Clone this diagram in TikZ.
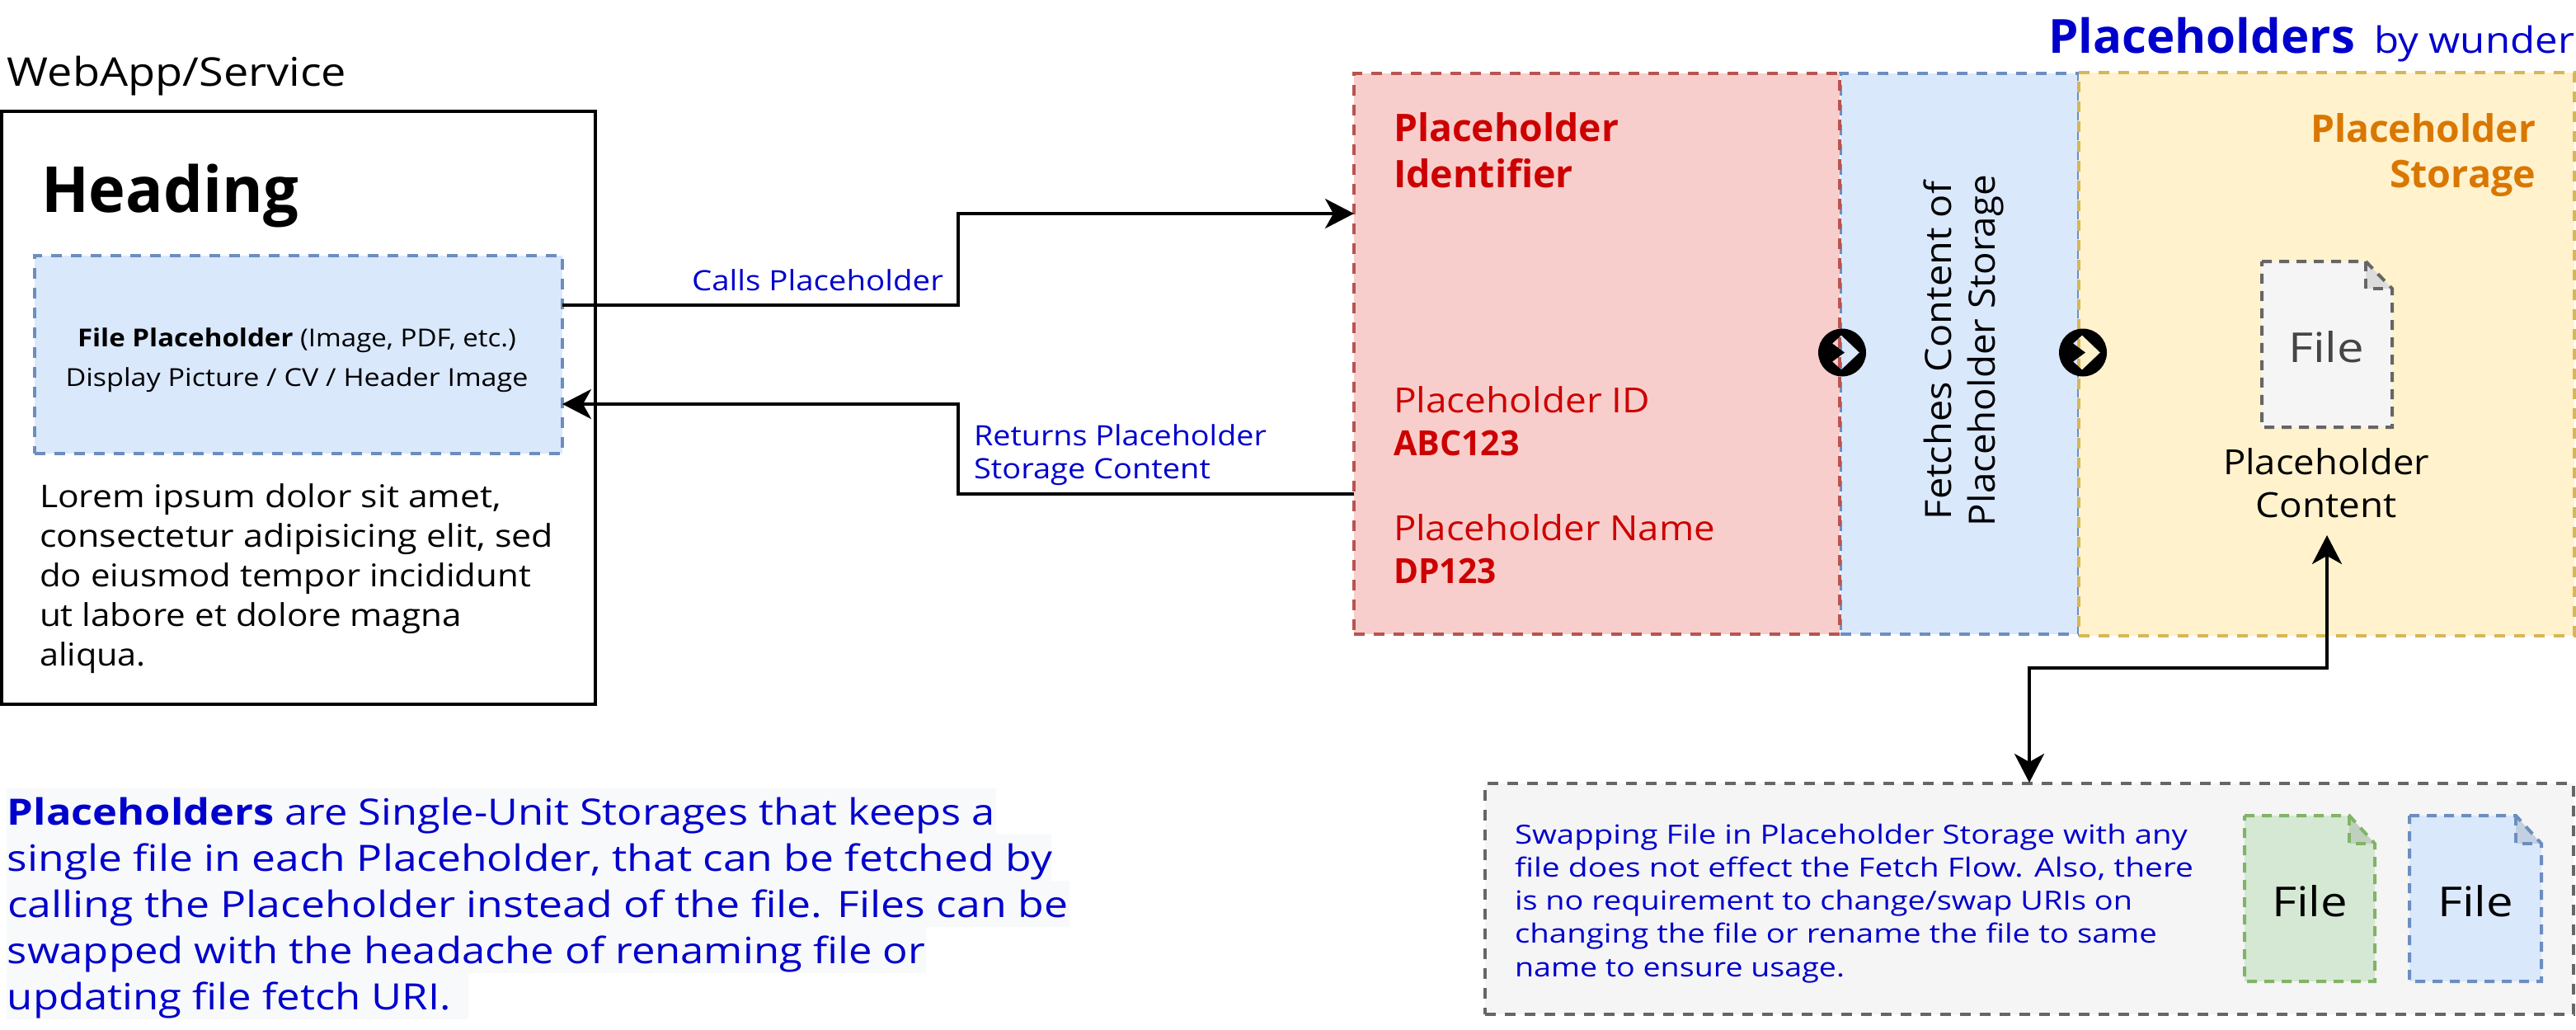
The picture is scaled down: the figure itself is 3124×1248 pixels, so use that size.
\documentclass[tikz,border=0pt]{standalone}
\usepackage{fontspec}
\setmainfont{Open Sans}
\usetikzlibrary{arrows.meta,calc}
\definecolor{tblue}{HTML}{0000CC}
\definecolor{tred}{HTML}{CC0000}
\definecolor{torange}{HTML}{D97700}
\definecolor{fred}{HTML}{F8CECC}\definecolor{sred}{HTML}{B85450}
\definecolor{fblue}{HTML}{DAE8FC}\definecolor{sblue}{HTML}{6C8EBF}
\definecolor{fyel}{HTML}{FFF2CC}\definecolor{syel}{HTML}{D6B656}
\definecolor{fgrn}{HTML}{D5E8D4}\definecolor{sgrn}{HTML}{82B366}
\definecolor{fgry}{HTML}{F5F5F5}\definecolor{sgry}{HTML}{666666}
\definecolor{hilite}{HTML}{F8F9FA}
\newsavebox\flbox
\newcommand\fl[2]{\sbox\flbox{#2}\pgfmathparse{#1*0.5/\wd\flbox}\scalebox{\pgfmathresult}[1]{\usebox\flbox}}
\newcommand\fs[2]{\fontsize{#1}{#2}\selectfont}
\tikzset{
  panel/.style={draw,line width=2pt,dash pattern=on 6.5pt off 5.5pt,inner sep=0pt,outer sep=0pt,anchor=north west},
  txt/.style={inner sep=0pt,outer sep=0pt,anchor=base west,align=left},
  txtc/.style={inner sep=0pt,outer sep=0pt,anchor=base,align=center},
  txtr/.style={inner sep=0pt,outer sep=0pt,anchor=base east,align=right},
  conn/.style={line width=2pt,draw=black},
  tipA/.style={-{Stealth[length=17.5pt,width=18pt,inset=5pt]}},
  tipB/.style={{Stealth[length=17.5pt,width=18pt,inset=5pt]}-{Stealth[length=17.5pt,width=18pt,inset=5pt]}},
  docline/.style={line width=2pt,dash pattern=on 6pt off 4.5pt}
}
\newcommand\filedoc[7]{% x1 y1 x2 y2 foldx foldy colourstem
  \fill[f#7] (#1,#2)--(#5,#2)--(#3,#6)--(#3,#4)--(#1,#4)--cycle;
  \fill[black,opacity=.1] (#5,#2)--(#5,#6)--(#3,#6)--cycle;
  \draw[docline,draw=s#7] (#1,#2)--(#5,#2)--(#3,#6)--(#3,#4)--(#1,#4)--cycle;
  \draw[docline,draw=s#7] (#5,#2)--(#5,#6)--(#3,#6);
}
\begin{document}
\begin{tikzpicture}[x=0.5pt,y=-0.5pt]
\useasboundingbox (0,0) rectangle (3124,1248);
\fill[white] (0,0) rectangle (3124,1248);

% left app
\node[txt,font=\fs{24}{30}] (title) at (9,104) {\fl{411}{WebApp/Service}};
\node[draw=black,line width=2pt,inner sep=0pt,outer sep=0pt,anchor=north west,minimum width=360pt,minimum height=359.5pt] (app) at (2,134.5) {};
\node[txt,font=\fs{38.5}{40}\bfseries] (head) at (50,257) {\fl{312}{Heading}};
\node[panel,draw=sblue,fill=fblue,minimum width=320.25pt,minimum height=120pt] (fp) at (41.5,310) {};
\node[txtc,font=\fs{15}{24}] (fptext) at (360,468) {\fl{532}{\textbf{File Placeholder} (Image, PDF, etc.)}\\\fl{561}{Display Picture / CV / Header Image}};
\node[txt,font=\fs{19}{24}] (lorem) at (48,807) {\fl{560}{Lorem ipsum dolor sit amet,}\\\fl{623}{consectetur adipisicing elit, sed}\\\fl{596}{do eiusmod tempor incididunt}\\\fl{512}{ut labore et dolore magna}\\\fl{129}{aliqua.}};

% right panels
\node[panel,draw=sblue,fill=fblue,minimum width=144.5pt,minimum height=340pt] (fetch) at (2232,89) {};
\node[panel,draw=sred,fill=fred,minimum width=294.5pt,minimum height=340pt] (pid) at (1642,89) {};
\node[panel,draw=syel,fill=fyel,minimum width=300.5pt,minimum height=341.5pt] (store) at (2521,88) {};

% header
\node[txt,font=\fs{28.5}{30}\bfseries,text=tblue] (brand) at (2484,64) {\fl{372}{Placeholders}};
\node[txt,font=\fs{22}{30},text=tblue] (by) at (2879,64) {\fl{243}{by wunder}};

\node[txt,font=\fs{23}{28}\bfseries,text=tred] (pidt) at (1690,227) {\fl{273}{Placeholder}\\\fl{218}{Identifier}};
\node[txt,font=\fs{21}{26},text=tred] (pidl) at (1690,552) {\fl{311}{Placeholder ID}\\\textbf{\fl{153}{ABC123}}};
\node[txt,font=\fs{21}{26},text=tred] (pnml) at (1690,707) {\fl{390}{Placeholder Name}\\\textbf{\fl{125}{DP123}}};
\node[txtr,font=\fs{23}{27.5}\bfseries,text=torange] (stt) at (3075,227) {\fl{273}{Placeholder}\\\fl{177}{Storage}};
\node[txtc,font=\fs{22}{26.5},rotate=90] (ftext) at (2419,425) {\fl{410}{Fetches Content of}\\\fl{426}{Placeholder Storage}};

% chevrons
\fill[black,even odd rule,shift={(2234,427.5)}] (0,0) circle (29) (-12,-11)--(-1,-21)--(21,0)--(-1,21)--(-12,11)--(3,0)--cycle;
\fill[black,even odd rule,shift={(2526,427.5)}] (0,0) circle (29) (-12,-11)--(-1,-21)--(21,0)--(-1,21)--(-12,11)--(3,0)--cycle;

% central file
\filedoc{2743}{317}{2901}{518}{2869}{350}{gry}
\node[txtc,font=\fs{25}{30},text=black!73] (f0) at (2821,439) {\fl{92}{File}};
\node[txtc,font=\fs{21}{26}] (pcont) at (2821,627.5) {\fl{250}{Placeholder}\\\fl{171}{Content}};

% swap box
\node[panel,draw=sgry,fill=fgry,minimum width=660pt,minimum height=140pt] (swap) at (1801,950) {};
\node[txt,font=\fs{16}{20.1},text=tblue] (swaptext) at (1837,1184) {\fl{816}{Swapping File in Placeholder Storage with any}\\\fl{823}{file does not effect the Fetch Flow. Also, there}\\\fl{749}{is no requirement to change/swap URIs on}\\\fl{779}{changing the file or rename the file to same}\\\fl{400}{name to ensure usage.}};
\filedoc{2722}{989}{2880}{1190}{2849}{1023}{grn}
\filedoc{2922}{989}{3082}{1190}{3051}{1023}{blue}
\node[txtc,font=\fs{25}{30}] (f1) at (2801,1111) {\fl{92}{File}};
\node[txtc,font=\fs{25}{30}] (f2) at (3002,1111) {\fl{92}{File}};

% bottom-left text
\fill[hilite] (8,956) rectangle (1208,1012) (8,1012) rectangle (1275,1068) (8,1068) rectangle (1297,1124) (8,1124) rectangle (1123,1180) (8,1180) rectangle (568,1236);
\node[txt,font=\fs{22}{28},text=tblue] (para) at (9,1224) {\fl{1198}{\textbf{Placeholders} are Single-Unit Storages that keeps a}\\\fl{1267}{single file in each Placeholder, that can be fetched by}\\\fl{1286}{calling the Placeholder instead of the file. Files can be}\\\fl{1113}{swapped with the headache of renaming file or}\\\fl{538}{updating file fetch URI.}};

% connector labels
\node[txt,font=\fs{17}{20},text=tblue] (calls) at (839,352) {\fl{305}{Calls Placeholder}};
\node[txt,font=\fs{17}{20},text=tblue] (rets) at (1181,580) {\fl{355}{Returns Placeholder}\\\fl{287}{Storage Content}};

% connectors
\coordinate (fpA) at ($(fp.north east)!0.25!(fp.south east)$);
\coordinate (fpB) at ($(fp.north east)!0.75!(fp.south east)$);
\coordinate (pidA) at ($(pid.north west)!0.25!(pid.south west)$);
\coordinate (pidB) at ($(pid.north west)!0.75!(pid.south west)$);
\coordinate (mid) at (1162,0);
\coordinate (busy) at (0,810);
\coordinate (up) at (2822,649);
\coordinate (swapTop) at (2461,949);
\draw[conn,tipA] (fpA) -- (fpA -| mid) -- (mid |- pidA) -- (pidA);
\draw[conn,tipA] (pidB) -- (pidB -| mid) -- (mid |- fpB) -- (fpB);
\draw[conn,tipB] (swapTop) -- (swapTop |- busy) -- (up |- busy) -- (up);
\end{tikzpicture}
\end{document}
